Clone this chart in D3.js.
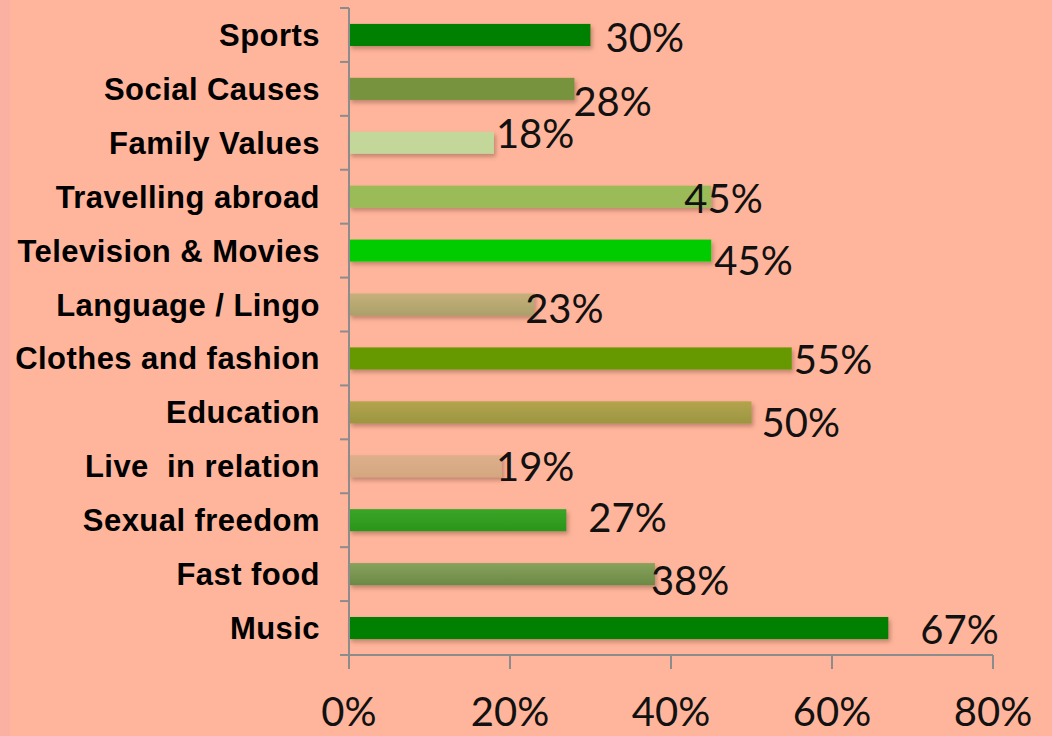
<!DOCTYPE html>
<html>
<head>
<meta charset="utf-8">
<script src="https://cdn.jsdelivr.net/npm/d3@7/dist/d3.min.js"></script>
<style>
  html, body { margin: 0; padding: 0; background: #FFB59B; }
  svg { display: block; }
</style>
</head>
<body>
<svg id="chart" width="1052" height="736"></svg>
<script>
// ---- data ----
const categories = ["Sports", "Social Causes", "Family Values", "Travelling abroad",
  "Television & Movies", "Language / Lingo", "Clothes and fashion", "Education",
  "Live  in relation", "Sexual freedom", "Fast food", "Music"];
const values = [30, 28, 18, 45, 45, 23, 55, 50, 19, 27, 38, 67];
const xTicks = [0, 20, 40, 60, 80];

// ---- styles ----
const barTop =    ["#008000", "#77933C", "#C4D79B", "#9BBB59", "#00CC00", "#C6B07A",
                   "#669900", "#B3A44E", "#DDAE8A", "#3AA527", "#88A25C", "#007F00"];
const barBottom = ["#008000", "#77933C", "#C4D79B", "#9BBB59", "#00CC00", "#ABA06A",
                   "#669900", "#9B9640", "#D4A781", "#2A951C", "#6B8945", "#007F00"];
// label nudges (dx, dy) relative to bar end / bar centre
const labelShift = [[15, 3], [-1, 13], [2, -9], [-27, 2], [3, 10], [-9, 4],
                    [2, 2], [10, 11], [-6, 1], [22, -2], [-4, 7], [32, 2]];

const svg = d3.select("#chart");
const W = 1052, H = 736;
svg.append("rect").attr("width", W).attr("height", H).attr("fill", "#FFB59B");
svg.append("rect").attr("width", 10).attr("height", H).attr("fill", "#FBB1A1");

const x = d3.scaleLinear().domain([0, 80]).range([349, 993]);
const y = d3.scaleBand().domain(categories).range([8, 655])
  .paddingInner(0.59).paddingOuter(0.295);

const defs = svg.append("defs");
const f = defs.append("filter").attr("id", "shadow")
  .attr("x", "-5%").attr("y", "-40%").attr("width", "115%").attr("height", "200%");
f.append("feDropShadow").attr("dx", 2).attr("dy", 3).attr("stdDeviation", 2)
  .attr("flood-color", "#7a4a3a").attr("flood-opacity", 0.45);

categories.forEach((c, i) => {
  const g = defs.append("linearGradient").attr("id", "g" + i)
    .attr("x1", 0).attr("y1", 0).attr("x2", 0).attr("y2", 1);
  g.append("stop").attr("offset", "0%").attr("stop-color", barTop[i]);
  g.append("stop").attr("offset", "100%").attr("stop-color", barBottom[i]);
});

// bars
svg.append("g").selectAll("rect").data(categories).join("rect")
  .attr("x", x(0))
  .attr("y", d => y(d))
  .attr("width", (d, i) => x(values[i]) - x(0))
  .attr("height", y.bandwidth())
  .attr("fill", (d, i) => `url(#g${i})`)
  .attr("filter", "url(#shadow)");

// axes
const axisColor = "#8C8C8C";
const step = y.step();
const boundaries = categories.map(c => y(c) + y.bandwidth() / 2 - step / 2)
  .concat([y(categories[categories.length - 1]) + y.bandwidth() / 2 + step / 2]);
const ax = svg.append("g").attr("stroke", axisColor).attr("stroke-width", 2).attr("fill", "none");
ax.append("line").attr("x1", x(0)).attr("x2", x(0))
  .attr("y1", boundaries[0]).attr("y2", boundaries[boundaries.length - 1]);
ax.selectAll("line.yt").data(boundaries).join("line").attr("class", "yt")
  .attr("x1", x(0) - 9).attr("x2", x(0)).attr("y1", d => d).attr("y2", d => d);
const yBase = boundaries[boundaries.length - 1];
ax.append("line").attr("x1", x(0)).attr("x2", x(80)).attr("y1", yBase).attr("y2", yBase);
ax.selectAll("line.xt").data(xTicks).join("line").attr("class", "xt")
  .attr("x1", d => x(d)).attr("x2", d => x(d)).attr("y1", yBase).attr("y2", yBase + 14);

// x tick labels
svg.append("g").selectAll("text").data(xTicks).join("text")
  .attr("x", d => x(d)).attr("y", yBase + 71)
  .attr("text-anchor", "middle")
  .attr("font-family", "Lato, 'Open Sans', sans-serif")
  .attr("font-size", 40).attr("fill", "#111")
  .text(d => d + "%");

// category labels
svg.append("g").selectAll("text").data(categories).join("text")
  .attr("x", 320)
  .attr("y", d => y(d) + y.bandwidth() / 2 + 11)
  .attr("text-anchor", "end")
  .attr("font-family", "'Liberation Sans', Arial, sans-serif")
  .attr("font-weight", "bold")
  .attr("font-size", 31).attr("fill", "#000")
  .attr("letter-spacing", 0.45)
  .style("white-space", "pre")
  .attr("xml:space", "preserve")
  .text(d => d);

// value labels
svg.append("g").selectAll("text").data(categories).join("text")
  .attr("x", (d, i) => x(values[i]) + labelShift[i][0])
  .attr("y", (d, i) => y(d) + y.bandwidth() / 2 + labelShift[i][1] + 14)
  .attr("font-family", "Lato, 'Open Sans', sans-serif")
  .attr("font-size", 40).attr("fill", "#111")
  .text((d, i) => values[i] + "%");
</script>
</body>
</html>
